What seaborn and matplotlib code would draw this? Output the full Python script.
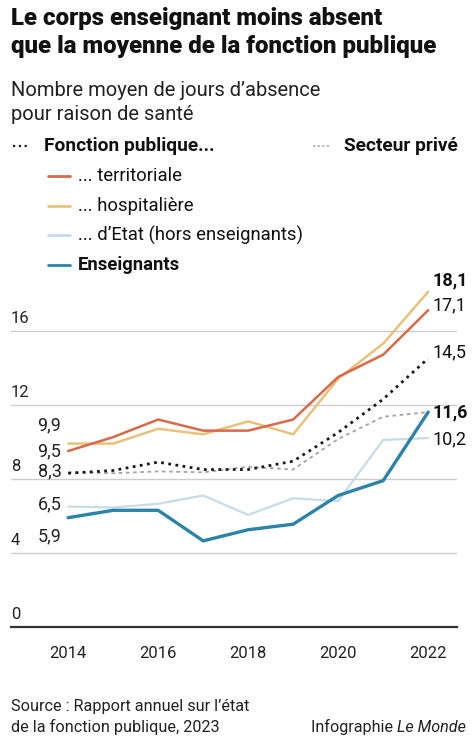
import pandas as pd
import matplotlib
matplotlib.use("Agg")
import matplotlib.pyplot as plt
from matplotlib.lines import Line2D
import seaborn as sns

sns.set_style("white")
plt.rcParams['font.family'] = ['Roboto', 'DejaVu Sans']

# --------- data ----------
years = [2014, 2015, 2016, 2017, 2018, 2019, 2020, 2021, 2022]
fp_total = [8.3, 8.45, 8.9, 8.5, 8.5, 8.95, 10.5, 12.3, 14.5]
fp_territoriale = [9.5, 10.25, 11.2, 10.6, 10.6, 11.2, 13.5, 14.7, 17.1]
fp_hospitaliere = [9.9, 9.9, 10.7, 10.4, 11.1, 10.4, 13.4, 15.3, 18.1]
fp_etat = [6.5, 6.45, 6.65, 7.1, 6.05, 6.95, 6.8, 10.1, 10.2]
enseignants = [5.9, 6.3, 6.3, 4.65, 5.25, 5.55, 7.1, 7.9, 11.6]
prive = [8.35, 8.3, 8.4, 8.35, 8.65, 8.5, 10.15, 11.35, 11.6]

yticks = [0, 4, 8, 12, 16]
xticks = [2014, 2016, 2018, 2020, 2022]

df = pd.DataFrame({
    'annee': years,
    'fp': fp_total,
    'territoriale': fp_territoriale,
    'hospitaliere': fp_hospitaliere,
    'etat': fp_etat,
    'enseignants': enseignants,
    'prive': prive,
})

C_TERR = '#d8694a'
C_HOSP = '#e9c27a'
C_ETAT = '#c6dce7'
C_ENS = '#2b83a9'
C_PRIVE = '#a3a3a3'
C_FP = '#1a1a1a'

fig = plt.figure(figsize=(4.73, 7.5), dpi=100)
ax = fig.add_axes([11 / 473, 0.164, 446 / 473, 0.4693])

# --------- lines ----------
sns.lineplot(data=df, x='annee', y='prive', ax=ax, color=C_PRIVE, lw=1.3,
             linestyle=(0, (2, 2)))
sns.lineplot(data=df, x='annee', y='etat', ax=ax, color=C_ETAT, lw=1.6)
sns.lineplot(data=df, x='annee', y='hospitaliere', ax=ax, color=C_HOSP, lw=1.8)
sns.lineplot(data=df, x='annee', y='territoriale', ax=ax, color=C_TERR, lw=1.8)
sns.lineplot(data=df, x='annee', y='fp', ax=ax, color=C_FP, lw=2.0,
             linestyle=(0, (1, 1.6)))
sns.lineplot(data=df, x='annee', y='enseignants', ax=ax, color=C_ENS, lw=2.4)

ax.set_xlim(2012.73, 2022.64)
ax.set_ylim(0, 19)
ax.set_xticks(xticks)
ax.set_xticklabels([str(x) for x in xticks], fontsize=12, color='#222222')
ax.set_yticks(yticks)
ax.set_yticklabels([])
ax.tick_params(axis='both', length=0)
ax.tick_params(axis='x', pad=14)
ax.set_xlabel('')
ax.set_ylabel('')
ax.grid(axis='y', color='#cccccc', lw=1)
ax.grid(axis='x', visible=False)
for s in ['top', 'right', 'left']:
    ax.spines[s].set_visible(False)
ax.spines['bottom'].set_color('#333333')
ax.spines['bottom'].set_linewidth(1.6)
ax.spines['bottom'].set_zorder(5)

# y labels sit above their gridline
for v in yticks:
    ax.text(2012.73, v + 0.25, str(v), fontsize=12, color='#222222',
            ha='left', va='bottom')

# start / end values
def fr(v):
    return f'{v:.1f}'.replace('.', ',')

left_labels = [(fp_hospitaliere[0], 10.9), (fp_territoriale[0], 9.5),
               (fp_total[0], 8.4), (fp_etat[0], 6.6), (enseignants[0], 4.9)]
for v, ypos in left_labels:
    ax.text(2013.85, ypos, fr(v), fontsize=13, color='#222222',
            ha='right', va='center')

right_labels = [(fp_hospitaliere[-1], 18.7, True), (fp_territoriale[-1], 17.35, False),
                (fp_total[-1], 14.85, False), (enseignants[-1], 11.6, True),
                (fp_etat[-1], 10.15, False)]
for v, ypos, bold in right_labels:
    ax.text(2022.1, ypos, fr(v), fontsize=13, color='#111111',
            ha='left', va='center', fontweight='bold' if bold else 'normal')

# --------- titles ----------
fig.text(11 / 473, 1 - 18 / 750, 'Le corps enseignant moins absent',
         fontsize=17.3, fontweight='black', color='#111111', va='center')
fig.text(11 / 473, 1 - 47 / 750, 'que la moyenne de la fonction publique',
         fontsize=17.3, fontweight='black', color='#111111', va='center')
fig.text(11 / 473, 1 - 90 / 750, 'Nombre moyen de jours d\u2019absence',
         fontsize=14.5, color='#222222', va='center')
fig.text(11 / 473, 1 - 115 / 750, 'pour raison de sant\u00e9',
         fontsize=14.5, color='#222222', va='center')

# --------- legend ----------
def leg_line(x0, x1, y, **kw):
    fig.add_artist(Line2D([x0 / 473, x1 / 473], [1 - y / 750, 1 - y / 750],
                          transform=fig.transFigure, **kw))

leg_line(13, 30, 146, color=C_FP, lw=1.6, linestyle=(0, (1, 1.6)))
fig.text(44 / 473, 1 - 146 / 750, 'Fonction publique...', fontsize=13.8,
         fontweight='bold', color='#111111', va='center')
leg_line(313, 330, 146, color=C_PRIVE, lw=1.1, linestyle=(0, (1.5, 1.5)))
fig.text(344 / 473, 1 - 146 / 750, 'Secteur priv\u00e9', fontsize=13.8,
         fontweight='bold', color='#111111', va='center')

entries = [(C_TERR, '... territoriale', 176, 'normal'),
           (C_HOSP, '... hospitali\u00e8re', 206, 'normal'),
           (C_ETAT, '... d\u2019Etat (hors enseignants)', 235, 'normal'),
           (C_ENS, 'Enseignants', 265, 'bold')]
for col, lab, y, w in entries:
    leg_line(48, 70, y, color=col, lw=2)
    fig.text(78 / 473, 1 - y / 750, lab, fontsize=13.3, fontweight=w,
             color='#111111', va='center')

# --------- footer ----------
fig.text(11 / 473, 1 - 707 / 750, 'Source : Rapport annuel sur l\u2019\u00e9tat',
         fontsize=11.7, color='#222222', va='center')
fig.text(11 / 473, 1 - 727 / 750, 'de la fonction publique, 2023',
         fontsize=11.7, color='#222222', va='center')
fig.text(466 / 473, 1 - 727 / 750, 'Infographie ', fontsize=11.6, color='#222222',
         va='center', ha='right')
t = fig.text(466 / 473, 1 - 727 / 750, 'Le Monde', fontsize=11.6, color='#222222',
             va='center', ha='right', style='italic')

# place "Infographie" just left of the italic part
fig.canvas.draw()
bb = t.get_window_extent()
fig.texts[-2].set_position((bb.x0 / fig.bbox.width, 1 - 727 / 750))

fig.savefig('out.png', dpi=100)
